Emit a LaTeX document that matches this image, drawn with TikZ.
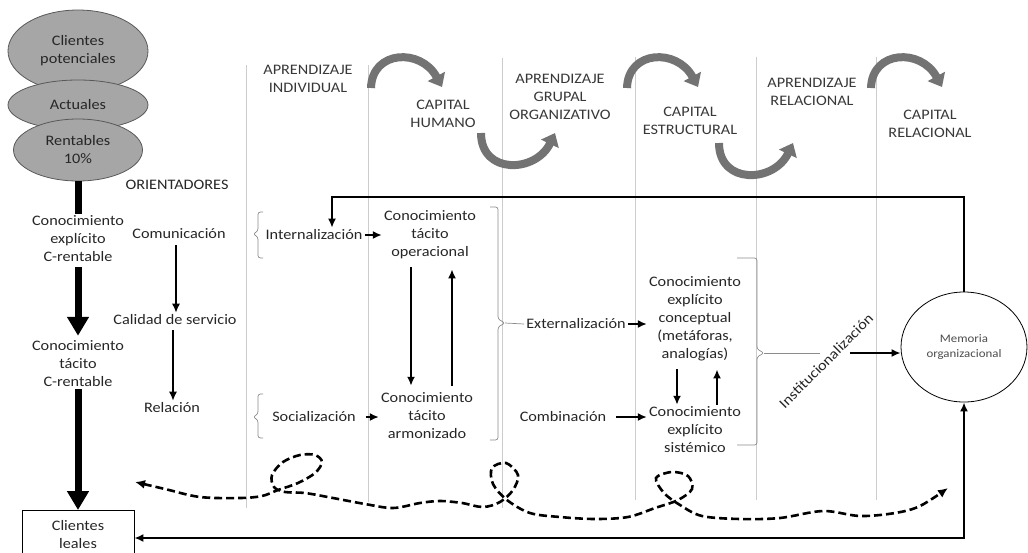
\documentclass[tikz,border=0pt]{standalone}
\usepackage{fontspec}
\setmainfont{Carlito}[FakeStretch=1.12]
\usetikzlibrary{arrows.meta,shapes.geometric}

\begin{document}
\begin{tikzpicture}[x=1pt,y=-1pt,
  txt/.style={align=center,font=\fontsize{14.5}{18}\selectfont,text=black!85,inner sep=2pt},
  hdr/.style={txt,text=black!78},
  col/.style={draw=black!20,line width=0.8pt},
  arr/.style={-{Latex[length=9pt,width=8pt]},line width=1.9pt},
  arrb/.style={{Latex[length=9pt,width=8pt]}-{Latex[length=9pt,width=8pt]},line width=2.2pt},
  fat/.style={-{Triangle[length=19pt,width=21pt]},line width=7pt},
  curl/.style={-{Triangle[length=12pt,width=19pt]},line width=8pt,draw=black!55},
  brc/.style={draw=black!45,line width=0.7pt,rounded corners=2.5pt},
  cli/.style={txt,ellipse,draw=black!65,fill=black!35,line width=0.8pt,inner sep=0pt},
  wave/.style={{Latex[length=10pt,width=9pt]}-{Latex[length=10pt,width=9pt]},line width=2.6pt,dash pattern=on 8pt off 4pt}]

\useasboundingbox (0,0) rectangle (1028,552);

% columnas
\foreach \x/\t/\b in {246/65/508, 368/65/502, 502/58/508, 635/57/500, 756/57/500, 876/57/500}
  \draw[col] (\x,\t) -- (\x,\b);

% titulos
\node[hdr] (ai) at (308,79) {APRENDIZAJE\\INDIVIDUAL};
\node[hdr] (ch) at (443,114) {CAPITAL\\HUMANO};
\node[hdr] (ag) at (560,97) {APRENDIZAJE\\GRUPAL\\ORGANIZATIVO};
\node[hdr] (ce) at (690,121) {CAPITAL\\ESTRUCTURAL};
\node[hdr] (ar) at (812,92) {APRENDIZAJE\\RELACIONAL};
\node[hdr] (cr) at (930,124) {CAPITAL\\RELACIONAL};

\foreach \x in {371,627,871}
  \draw[curl] (\x,88) .. controls (\x+1,50) and (\x+50,48) .. (\x+71,87);
\foreach \x/\y in {481/133,719/143}
  \draw[curl] (\x,\y) .. controls (\x,\y+42) and (\x+55,\y+40) .. (\x+74,\y);

% clientes
\node[cli,minimum width=140pt,minimum height=82pt] (pot) at (78,51) {Clientes\\potenciales};
\node[cli,minimum width=140pt,minimum height=50pt] (act) at (78,105) {Actuales};
\node[cli,minimum width=129pt,minimum height=62pt] (ren) at (78,150) {Rentables\\10\%};

\node[txt] (cexp) at (78,239) {Conocimiento\\explícito\\C-rentable};
\node[txt] (ctac) at (78,364) {Conocimiento\\tácito\\C-rentable};
\node[txt,draw=black,line width=0.8pt,minimum width=112pt,minimum height=48pt,anchor=north] (leal) at (78,510) {Clientes\\leales};

\draw[line width=7pt] (ren.south) -- (cexp.north);
\draw[fat,shorten <=3pt,shorten >=3pt] (cexp.south) -- (ctac.north);
\draw[fat] (ctac.south) -- (leal.north);

% orientadores
\node[txt] (ori) at (177,185) {ORIENTADORES};
\node[txt] (com) at (179,234) {Comunicación};
\node[txt] (cal) at (175,320) {Calidad de servicio};
\node[txt] (rel) at (172,408) {Relación};
\draw[arr,line width=1.5pt,shorten <=4pt] ([xshift=-3pt]com.south) -- ([xshift=1pt]cal.north);
\draw[arr,line width=1.5pt,shorten <=3pt] ([xshift=-2pt]cal.south) -- ([xshift=1pt]rel.north);

% conversion
\node[txt] (int) at (314,235) {Internalización};
\node[txt] (soc) at (314,417) {Socialización};
\node[txt] (op) at (430,235) {Conocimiento\\tácito\\operacional};
\node[txt] (arm) at (427,416) {Conocimiento\\tácito\\armonizado};
\draw[arr] (int.east) -- (int.east -| op.west);
\draw[arr,shorten <=8pt] (soc.east) -- (soc.east -| arm.west);
\draw[arr,shorten <=6pt,shorten >=5pt] ([xshift=-19pt]op.south) -- ([xshift=-19pt]op.south |- arm.north);
\draw[arr,shorten <=5pt,shorten >=8pt] ([xshift=22pt]op.south |- arm.north) -- ([xshift=22pt]op.south);

\draw[brc] (263,212) -- (258,212) -- (258,231) -- (253,234) -- (258,237) -- (258,258) -- (263,258);
\draw[brc] (263,394) -- (258,394) -- (258,414) -- (253,417) -- (258,420) -- (258,438) -- (263,438);

\node[txt] (ext) at (576,324) {Externalización};
\node[txt] (cmb) at (563,417) {Combinación};
\node[txt] (cc) at (695,319) {Conocimiento\\explícito\\conceptual\\(metáforas,\\analogías)};
\node[txt] (cs) at (695,430) {Conocimiento\\explícito\\sistémico};
\draw[arr] (ext.east) -- (ext.east -| cc.west);
\draw[arr,shorten <=8pt] (cmb.east) -- (cmb.east -| cs.west);
\draw[arr,shorten <=6pt] ([xshift=-18pt]cc.south) -- ([xshift=-18pt]cc.south |- cs.north);
\draw[arr,shorten >=6pt] ([xshift=22pt]cc.south |- cs.north) -- ([xshift=22pt]cc.south);

\coordinate (b1) at (505,323);
\draw[brc] (490,207) -- (498,207) -- (498,319) -- (b1) -- (498,327) -- (498,440) -- (490,440);
\draw[draw=black!45,line width=0.7pt] (b1) -- (ext.west);

\coordinate (b2) at (764,353);
\coordinate (b3) at (820,353);
\draw[brc] (737,258) -- (757,258) -- (757,349) -- (b2) -- (757,357) -- (757,445) -- (737,445);
\draw[draw=black!45,line width=0.7pt] (b2) -- (b3);
\node[txt,rotate=45] (ins) at (826,361) {Institucionalización};

% memoria
\node[ellipse,draw,line width=0.8pt,minimum width=126pt,minimum height=110pt,align=center,
  font=\fontsize{11.5}{15}\selectfont,text=black!70] (mem) at (964,347) {Memoria\\organizacional};
\coordinate (ia) at (850,353);
\draw[arr] (ia) -- (ia -| mem.west);

\coordinate (fb) at (332,197);
\draw[arr,line width=2.2pt] (mem.north) |- (fb) -- (fb |- int.north);
\coordinate (bc) at (964,538);
\draw[arrb] (mem.south) |- (bc -| leal.east);

% flujo
\coordinate (wl) at (135,482);
\coordinate (wr) at (948,488);
\draw[wave] plot[smooth,tension=0.55] coordinates {(wl) (165,489) (200,497) (240,498) (262,496)
  (278,490) (298,483) (315,473) (322,462) (315,455) (300,455) (283,462) (272,475) (274,487)
  (285,492) (305,493) (333,498) (365,504) (393,508) (420,503) (440,501) (462,503) (483,507)
  (500,502) (513,490) (518,475) (506,463) (492,468) (493,484) (507,500) (530,513) (560,517)
  (595,519) (628,517) (655,508) (678,500) (692,489) (688,476) (672,472) (656,478) (664,493)
  (680,505) (702,516) (740,519) (780,518) (823,511) (860,516) (895,513) (920,506) (wr)};

\end{tikzpicture}
\end{document}
